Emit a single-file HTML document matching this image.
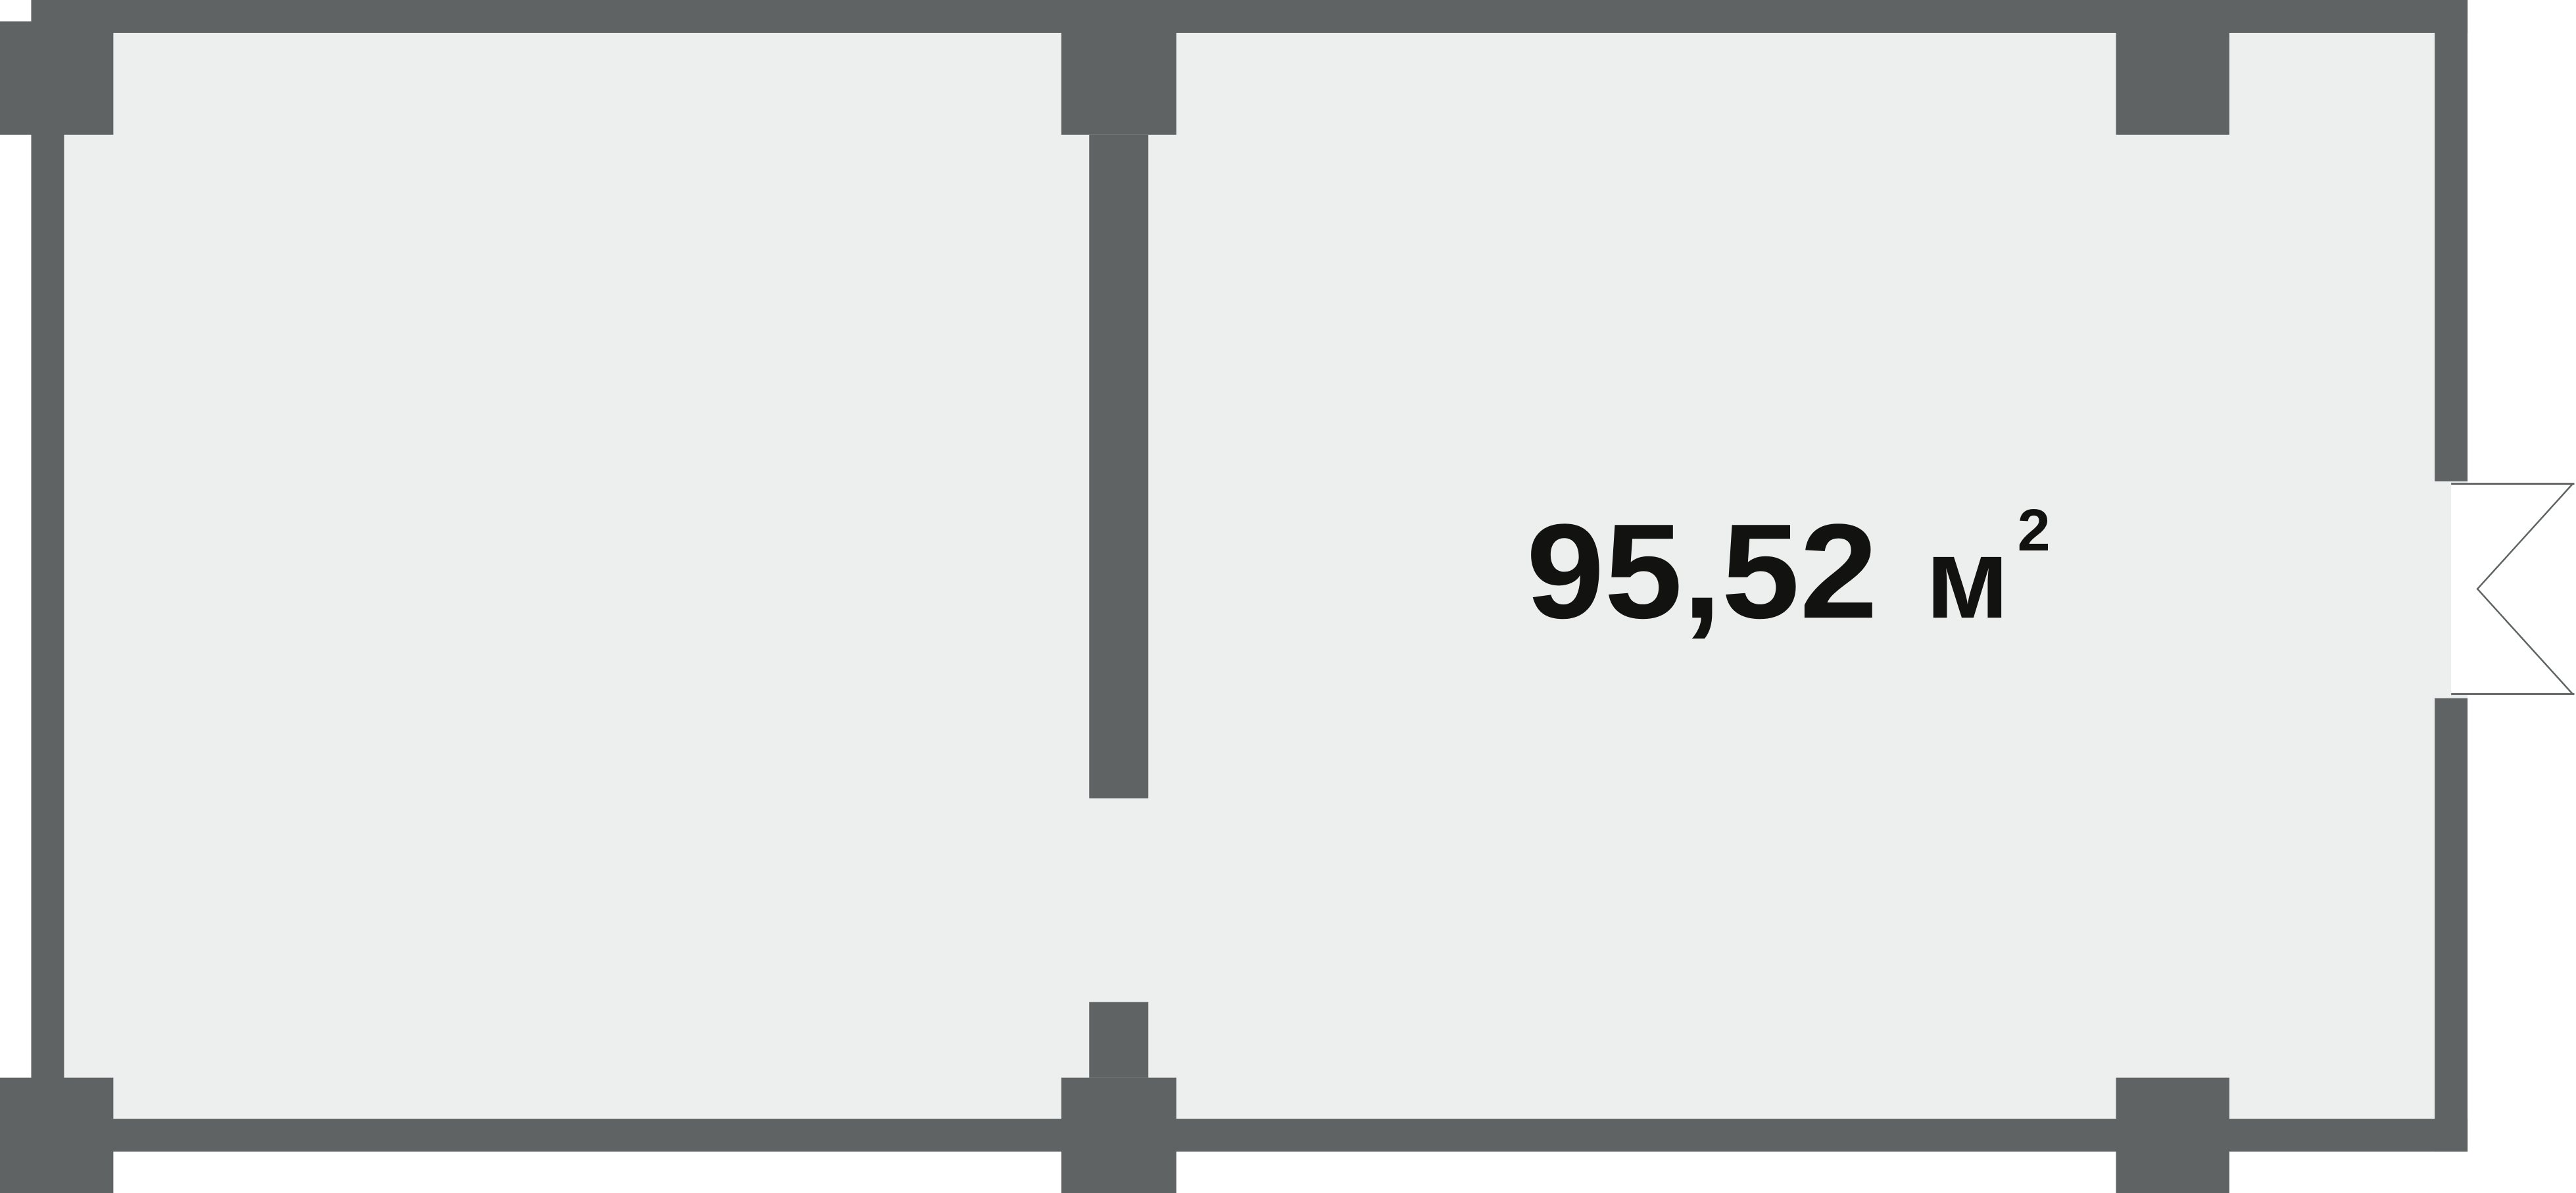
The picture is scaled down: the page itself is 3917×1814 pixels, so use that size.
<!DOCTYPE html>
<html><head><meta charset="utf-8"><style>html,body{margin:0;padding:0;background:#fff}svg{display:block}</style></head>
<body>
<svg width="3917" height="1814" viewBox="0 0 1568 726.2" preserveAspectRatio="none" xmlns="http://www.w3.org/2000/svg">
<rect x="19" y="0" width="1483" height="701" fill="#edefee"/>
<g fill="#5f6363">
<rect x="19" y="0" width="1483" height="20"/>
<rect x="19" y="681" width="1483" height="20"/>
<rect x="19" y="0" width="20" height="701"/>
<rect x="1482" y="0" width="20" height="293"/>
<rect x="1482" y="425" width="20" height="276"/>
<rect x="0" y="13" width="69" height="69"/>
<rect x="646" y="0" width="70" height="82"/>
<rect x="1288" y="0" width="69" height="82"/>
<rect x="0" y="656" width="69" height="70.2"/>
<rect x="646" y="656" width="70" height="70.2"/>
<rect x="1288" y="656" width="69" height="70.2"/>
<rect x="663" y="82" width="36" height="404"/>
<rect x="663" y="610" width="36" height="46"/>
</g>
<g>
<rect x="1492" y="294" width="75" height="129" fill="#fff"/>
<line x1="1492" y1="294.5" x2="1567" y2="294.5" stroke="#5f6363" stroke-width="1.2"/>
<line x1="1492" y1="422.5" x2="1567" y2="422.5" stroke="#5f6363" stroke-width="1.2"/>
<polyline points="1566,294.5 1508,358.5 1566,422.5" fill="none" stroke="#5f6363" stroke-width="1"/>
</g>
<g fill="#121210" font-family="'Liberation Sans', sans-serif" font-weight="bold">
<text x="929" y="376" font-size="82" textLength="214" lengthAdjust="spacingAndGlyphs">95,52</text>
<text x="1172" y="376" font-size="70" textLength="51" lengthAdjust="spacingAndGlyphs">м</text>
<text x="1228" y="335" font-size="36" textLength="20" lengthAdjust="spacingAndGlyphs">2</text>
</g>
</svg>
</body></html>
